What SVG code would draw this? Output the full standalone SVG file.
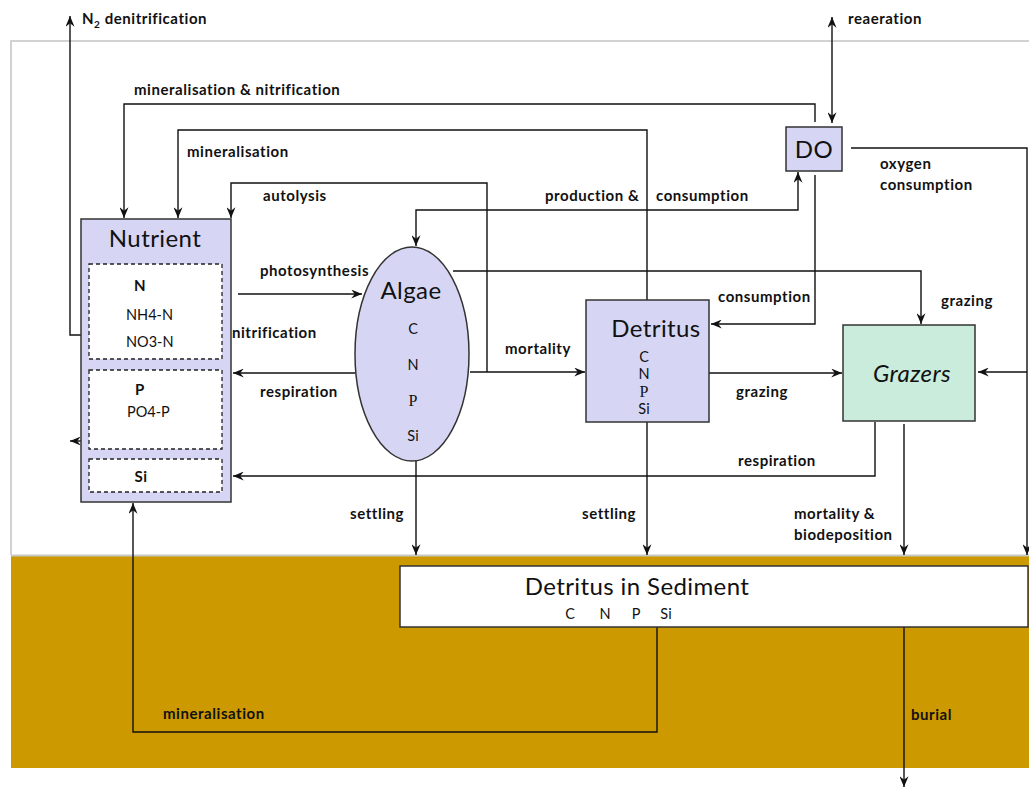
<svg xmlns="http://www.w3.org/2000/svg" width="1029" height="787" viewBox="0 0 1029 787">
  <style>
    .lbl { font-family: Lato, "Liberation Sans", sans-serif; font-size: 15px; font-weight: bold; letter-spacing: 0.55px; fill: #111; }
    .title { font-family: Lato, "Liberation Sans", sans-serif; font-size: 24px; letter-spacing: 0.4px; fill: #111; }
    .small { font-family: Lato, "Liberation Sans", sans-serif; font-size: 14.5px; fill: #111; }
    .serif { font-family: "Liberation Serif", serif; font-size: 16px; fill: #111; }
    .box { fill: #D6D6F4; stroke: #333; stroke-width: 1.5; }
    .dash { fill: #fff; stroke: #222; stroke-width: 1.3; stroke-dasharray: 4 3; }
    .conn { fill: none; stroke: #111; stroke-width: 1.4; }
    .arr { marker-end: url(#head); }
    .both { marker-start: url(#head); marker-end: url(#head); }
  </style>
  <defs>
    <marker id="head" viewBox="0 0 12 10" refX="12" refY="5" markerWidth="12" markerHeight="9" markerUnits="userSpaceOnUse" orient="auto-start-reverse">
      <path d="M0,0 L12,5 L0,10 L4,5 Z" fill="#111"/>
    </marker>
  </defs>

  <!-- water column and sediment layer -->
  <rect x="0" y="0" width="1029" height="787" fill="#fff"/>
  <path d="M11,555 V41 H1029" fill="none" stroke="#c4c4c4" stroke-width="1.5"/>
  <rect x="11" y="556" width="1018" height="212" fill="#CC9900"/>
  <line x1="11" y1="555.5" x2="1029" y2="555.5" stroke="#c8c8c8" stroke-width="2"/>

  <!-- connectors -->
  <g id="connectors">
    <path class="conn arr" d="M124,335 H70 V16"/>
    <path class="conn both" d="M832,17 V123"/>
    <path class="conn arr" d="M815,122 V104 H124 V218"/>
    <path class="conn arr" d="M647,300 V130 H178 V218"/>
    <path class="conn arr" d="M487,372 V183 H231 V218"/>
    <path class="conn both" d="M416,246 V210 H798 V172"/>
    <path class="conn arr" d="M815,175 V324 H711"/>
    <path class="conn arr" d="M851,148 H1027 V555"/>
    <path class="conn arr" d="M1027,372 H978"/>
    <path class="conn arr" d="M453,271 H921 V324"/>
    <path class="conn arr" d="M470,372 H585"/>
    <path class="conn arr" d="M238,294 H362"/>
    <path class="conn arr" d="M355,373 H233"/>
    <path class="conn arr" d="M875,422 V476 H233"/>
    <path class="conn arr" d="M709,373 H842"/>
    <path class="conn arr" d="M904,424 V555"/>
    <path class="conn arr" d="M416,461 V555"/>
    <path class="conn arr" d="M647,422 V555"/>
    <path class="conn arr" d="M657,627 V732 H133 V503"/>
    <path class="conn arr" d="M904,627 V787"/>
    <path class="conn arr" d="M187,317 H213 V343 H189"/>
    <path class="conn arr" d="M98,441 H70"/>
  </g>

  <!-- Nutrient pool -->
  <g id="nutrient">
    <rect class="box" x="81" y="219" width="150" height="283"/>
    <text class="title" x="155" y="247" text-anchor="middle">Nutrient</text>
    <rect class="dash" x="89" y="264" width="133" height="95"/>
    <text class="lbl" x="140" y="291" text-anchor="middle" font-size="16.5">N</text>
    <text class="small" x="126" y="320">NH4-N</text>
    <text class="small" x="126" y="347">NO3-N</text>
    <rect class="dash" x="89" y="370" width="133" height="79"/>
    <text class="lbl" x="140" y="395" text-anchor="middle" font-size="16.5">P</text>
    <text class="small" x="127" y="417">PO4-P</text>
    <rect class="dash" x="89" y="459" width="133" height="33"/>
    <text class="lbl" x="141" y="482" text-anchor="middle" font-size="16.5">Si</text>
  </g>

  <!-- Algae -->
  <g id="algae">
    <ellipse cx="412" cy="354" rx="57" ry="107" fill="#D6D6F4" stroke="#333" stroke-width="1.5"/>
    <text class="title" x="411" y="299" text-anchor="middle" font-size="26">Algae</text>
    <text class="small" x="413" y="334" text-anchor="middle">C</text>
    <text class="small" x="413" y="370" text-anchor="middle">N</text>
    <text class="serif" x="413" y="406" text-anchor="middle">P</text>
    <text class="small" x="413" y="441" text-anchor="middle">Si</text>
  </g>

  <!-- Detritus -->
  <g id="detritus">
    <rect class="box" x="586" y="300" width="123" height="122"/>
    <text class="title" x="656" y="337" text-anchor="middle">Detritus</text>
    <text class="small" x="644" y="362" text-anchor="middle">C</text>
    <text class="small" x="644" y="379" text-anchor="middle">N</text>
    <text class="serif" x="644" y="397" text-anchor="middle">P</text>
    <text class="small" x="644" y="414" text-anchor="middle">Si</text>
  </g>

  <!-- Grazers -->
  <g id="grazers">
    <rect x="843" y="325" width="132" height="96" fill="#C9ECDC" stroke="#333" stroke-width="1.5"/>
    <text class="title" x="912" y="382" text-anchor="middle" font-style="italic" font-size="26">Grazers</text>
  </g>

  <!-- Dissolved oxygen -->
  <g id="do">
    <rect class="box" x="786" y="127" width="56" height="44"/>
    <text class="title" x="814" y="158" text-anchor="middle">DO</text>
  </g>

  <!-- Sediment detritus -->
  <g id="sediment">
    <rect x="400" y="566" width="628" height="61" fill="#fff" stroke="#333" stroke-width="1.5"/>
    <text class="title" x="637" y="595" text-anchor="middle" font-size="25">Detritus in Sediment</text>
    <text class="small" x="570" y="619" text-anchor="middle">C</text>
    <text class="small" x="605" y="619" text-anchor="middle">N</text>
    <text class="small" x="636" y="619" text-anchor="middle">P</text>
    <text class="small" x="666" y="619" text-anchor="middle">Si</text>
  </g>

  <!-- process labels -->
  <g id="labels">
    <text class="lbl" x="82" y="24">N<tspan font-size="10" dy="4">2</tspan><tspan dy="-4"> denitrification</tspan></text>
    <text class="lbl" x="848" y="24">reaeration</text>
    <text class="lbl" x="134" y="95">mineralisation &amp; nitrification</text>
    <text class="lbl" x="187" y="157">mineralisation</text>
    <text class="lbl" x="263" y="201">autolysis</text>
    <text class="lbl" x="545" y="201">production &amp;</text>
    <text class="lbl" x="656" y="201">consumption</text>
    <text class="lbl" x="880" y="169">oxygen</text>
    <text class="lbl" x="880" y="190">consumption</text>
    <text class="lbl" x="260" y="276">photosynthesis</text>
    <text class="lbl" x="232" y="338">nitrification</text>
    <text class="lbl" x="260" y="397">respiration</text>
    <text class="lbl" x="718" y="302">consumption</text>
    <text class="lbl" x="941" y="306">grazing</text>
    <text class="lbl" x="505" y="354">mortality</text>
    <text class="lbl" x="736" y="397">grazing</text>
    <text class="lbl" x="738" y="466">respiration</text>
    <text class="lbl" x="350" y="519">settling</text>
    <text class="lbl" x="582" y="519">settling</text>
    <text class="lbl" x="794" y="519">mortality &amp;</text>
    <text class="lbl" x="794" y="540">biodeposition</text>
    <text class="lbl" x="163" y="719">mineralisation</text>
    <text class="lbl" x="911" y="720">burial</text>
  </g>
</svg>
